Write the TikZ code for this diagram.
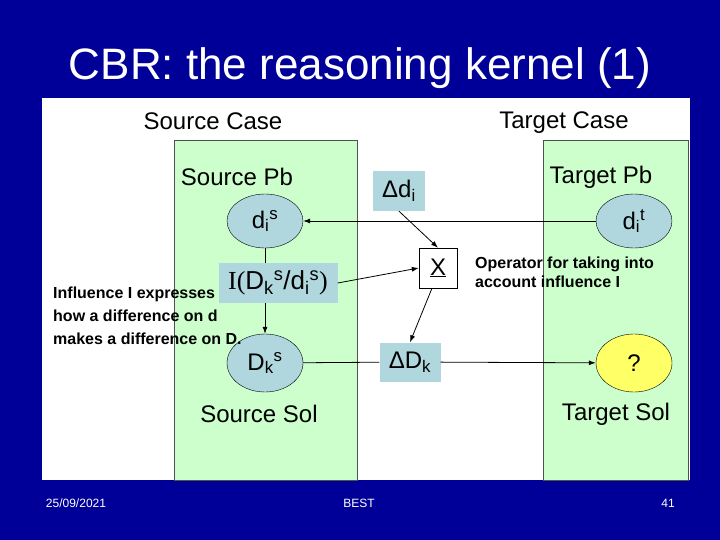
\documentclass[tikz,border=0pt]{standalone}
\usepackage{fontspec}
\setmainfont{Liberation Sans}
\newfontfamily\seriffont{Liberation Serif}
\usetikzlibrary{shapes.geometric, arrows.meta, positioning}
\definecolor{slideblue}{RGB}{0,0,153}
\definecolor{casegreen}{RGB}{204,255,204}
\definecolor{featblue}{RGB}{176,214,222}
\definecolor{solyellow}{RGB}{255,255,102}
\definecolor{darkgray}{RGB}{80,80,80}

% descriptor with staggered sub- and superscript
\newcommand{\feat}[3]{#1\textsubscript{#2}\textsuperscript{#3}}

\begin{document}
\begin{tikzpicture}[x=1pt, y=-1pt,
    caselabel/.style={font=\fontsize{24}{28}\selectfont, inner sep=0pt},
    feature/.style={ellipse, draw=black, fill=featblue, minimum width=76pt, minimum height=54pt, inner sep=0pt, font=\fontsize{24}{28}\selectfont},
    delta/.style={rectangle, fill=featblue, inner sep=0pt, font=\fontsize{24}{28}\selectfont},
    annot/.style={align=left, font=\fontsize{16}{19}\selectfont\bfseries, inner sep=0pt, anchor=west},
    footer/.style={text=white, font=\fontsize{12}{14}\selectfont},
    arrow/.style={-{Latex[length=7pt, width=5pt]}, line width=0.8pt}
]
\useasboundingbox (0,0) rectangle (720,540);

% Slide background, panel and case areas
\fill[slideblue] (0,0) rectangle (720,540);
\fill[white] (42,98) rectangle (690,480);
\draw[darkgray, fill=casegreen] (174,140) rectangle (357,480);
\draw[darkgray, fill=casegreen] (543,140) rectangle (688,480);

% Title
\node[text=white, font=\fontsize{44}{50}\selectfont] (title) at (360,68) {CBR: the reasoning kernel (1)};

% Case labels
\node[caselabel] (srccase) at (213,121) {Source Case};
\node[caselabel] (tgtcase) at (564,123) {Target Case};
\node[caselabel] (srcpb) at (237,177) {Source Pb};
\node[caselabel] (tgtpb) at (601,177) {Target Pb};
\node[caselabel] (srcsol) at (259,414) {Source Sol};
\node[caselabel] (tgtsol) at (616,414) {Target Sol};

% Descriptors
\node[feature] (dis) at (265,221) {\feat{d}{i}{s}};
\node[feature] (dit) at (634,221) {\feat{d}{i}{t}};
\node[feature, minimum height=58pt] (dks) at (265,363) {\feat{D}{k}{s}};
\node[feature, fill=solyellow, minimum height=58pt] (sol) at (634,363) {?};

% Differences, influence and operator
\node[delta, minimum width=52pt, minimum height=40pt] (ddi) at (399,191) {Δd\textsubscript{i}};
\node[delta, minimum width=61pt, minimum height=39pt] (ddk) at (410,362) {ΔD\textsubscript{k}};
\node[delta, minimum width=119pt, minimum height=40pt, font=\fontsize{26}{30}\selectfont] (infl) at (278,283) {{\seriffont I(}\feat{D}{k}{s}/\feat{d}{i}{s}{\seriffont )}};
\node[draw, fill=white, minimum width=38pt, minimum height=40pt, inner sep=0pt, font=\fontsize{24}{28}\selectfont] (op) at (438,268) {\underline{X}};

% Notes
\node[annot, font=\fontsize{16}{23}\selectfont\bfseries] (inflnote) at (53,316) {Influence I expresses\\how a difference on d\\makes a difference on D.};
\node[annot] (opnote) at (475,272) {Operator for taking into\\account influence I};

% Connectors
\draw[arrow] (dit) -- (dis);
\draw[line width=0.8pt] (dis.south) -- (dis.south |- infl.north);
\draw[arrow] (infl.south -| dks.north) -- (dks.north);
\draw[arrow] (ddi.south) -- (op.north);
\draw[arrow] (infl.east) -- (op.west);
\draw[arrow] ([xshift=-6pt]op.south) -- (ddk.north);
\draw[line width=0.8pt] (dks) -- (ddk);
\draw[arrow] (ddk) -- (sol);

% Footer
\node[footer] (date) at (76,503) {25/09/2021};
\node[footer] (venue) at (359,503) {BEST};
\node[footer] (page) at (668,503) {41};

\end{tikzpicture}
\end{document}
